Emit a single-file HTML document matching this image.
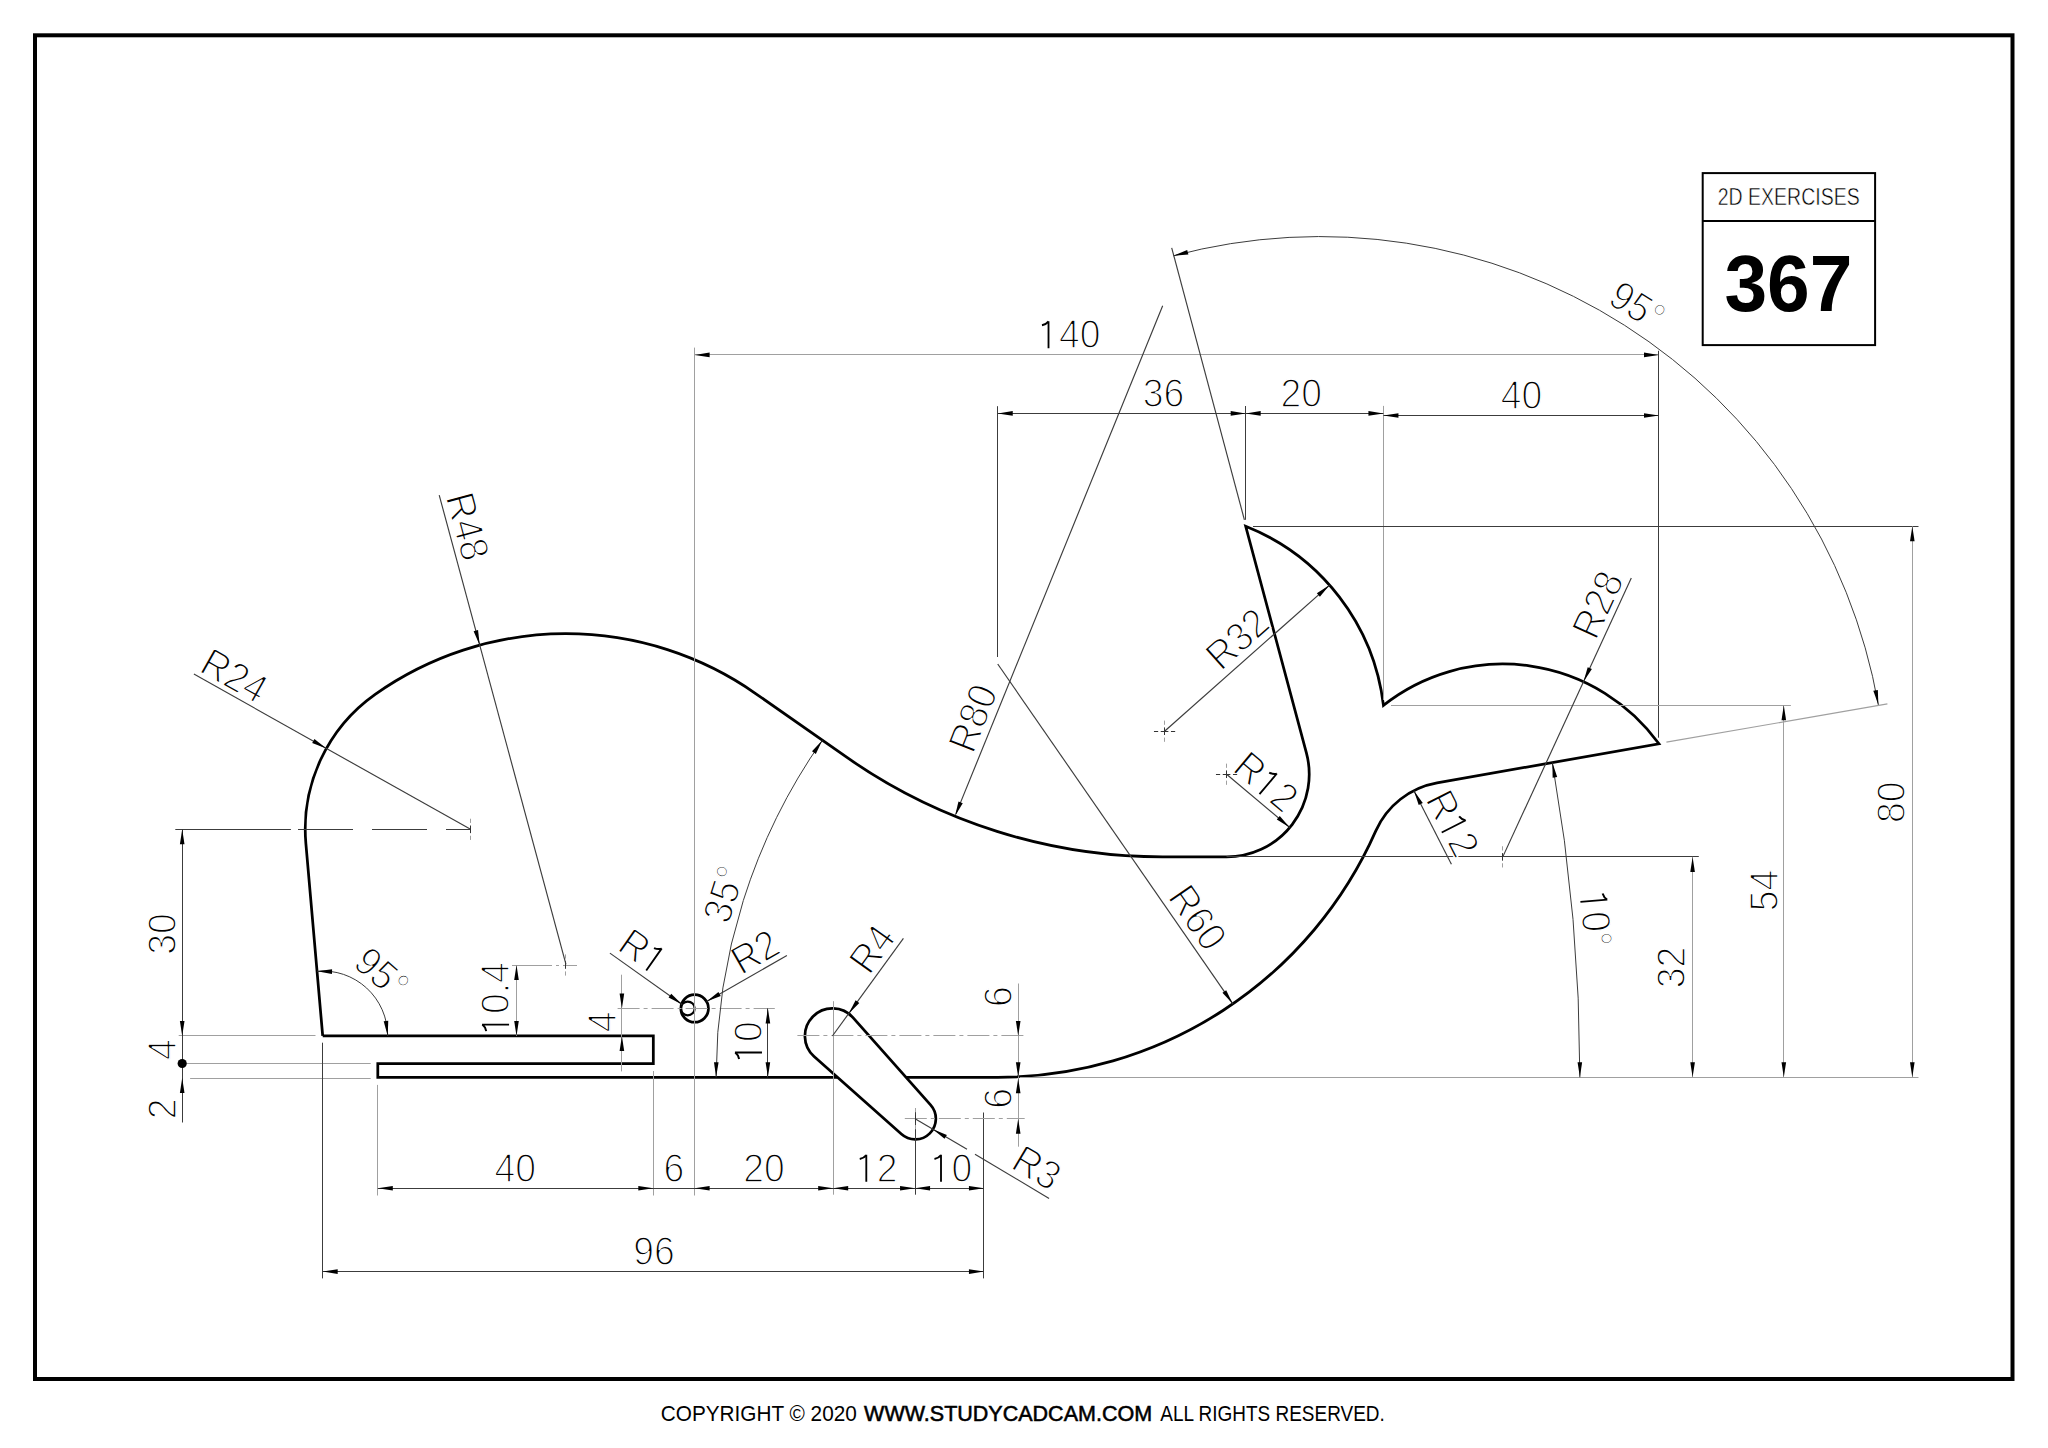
<!DOCTYPE html><html><head><meta charset="utf-8"><style>html,body{margin:0;padding:0;background:#fff;}svg{display:block}</style></head><body>
<svg width="2048" height="1448" viewBox="0 0 2048 1448">
<rect width="2048" height="1448" fill="#fff"/>
<rect x="35" y="35.3" width="1977.5" height="1343.7" fill="none" stroke="#000" stroke-width="4"/>
<rect x="1702.7" y="173.1" width="172.4" height="172" fill="none" stroke="#000" stroke-width="2"/>
<line x1="1702.7" y1="221" x2="1875.1" y2="221" stroke="#000" stroke-width="2"/>
<text x="1788.7" y="205.3" text-anchor="middle" font-family="Liberation Sans" font-size="23.8" textLength="142" lengthAdjust="spacingAndGlyphs" fill="#000" stroke="#fff" stroke-width="0.5">2D EXERCISES</text>
<text x="1788.4" y="311.3" text-anchor="middle" font-family="Liberation Sans" font-size="80.5" font-weight="bold" textLength="128" lengthAdjust="spacingAndGlyphs" fill="#000">367</text>
<g font-family="Liberation Sans" font-size="21.6" fill="#000">
<text x="660.8" y="1421.2" textLength="196" lengthAdjust="spacingAndGlyphs">COPYRIGHT © 2020</text>
<text x="864.1" y="1421.2" textLength="288" lengthAdjust="spacingAndGlyphs" stroke="#000" stroke-width="0.55">WWW.STUDYCADCAM.COM</text>
<text x="1160.3" y="1421.2" textLength="224.5" lengthAdjust="spacingAndGlyphs">ALL RIGHTS RESERVED.</text>
</g>
<path d="M322.7,1035.97 L305.88,843.74 A165.31,165.31 0 0 1 375.16,694.33 A330.62,330.62 0 0 1 755.61,693.51 L846.61,757.23 A551.04,551.04 0 0 0 1162.68,856.88 L1226.56,856.88 A82.66,82.66 0 0 0 1306.4,752.84 L1245.69,526.26 A220.42,220.42 0 0 1 1383.45,705.35 A192.86,192.86 0 0 1 1658.97,743.78 L1437.06,782.91 A82.66,82.66 0 0 0 1375.8,830.93 A413.28,413.28 0 0 1 997.72,1077.3 L905.99,1077.3" fill="none" stroke="#000" stroke-width="2.75" stroke-linejoin="miter"/>
<path d="M837.44,1077.3 L377.8,1077.3 L377.8,1063.52 L653.32,1063.52 L653.32,1035.97 L322.7,1035.97" fill="none" stroke="#000" stroke-width="2.75" stroke-linejoin="miter"/>
<path d="M853.01,1017.67 A27.55,27.55 0 1 0 814.11,1056.57 L901.34,1134.08 A20.66,20.66 0 0 0 930.52,1104.9 L853.01,1017.67Z" fill="none" stroke="#000" stroke-width="2.75"/>
<circle cx="694.65" cy="1008.42" r="13.78" fill="none" stroke="#000" stroke-width="2.75"/>
<circle cx="687.76" cy="1008.42" r="6.89" fill="none" stroke="#000" stroke-width="2.2"/>
<line x1="694.5" y1="347.6" x2="694.5" y2="1195.5" stroke="#a0a0a0" stroke-width="1.0"/>
<line x1="694.65" y1="354.5" x2="1658.97" y2="354.5" stroke="#a0a0a0" stroke-width="1.0"/>
<polygon points="694.65,354.9 709.65,352.6 709.65,357.2" fill="#000"/>
<polygon points="1658.97,354.9 1643.97,357.2 1643.97,352.6" fill="#000"/>
<line x1="1658.5" y1="350.8" x2="1658.5" y2="737.7" stroke="#3c3c3c" stroke-width="1.0"/>
<g transform="translate(1069.4,334.2) rotate(0) scale(0.92,1)"><text y="13.97" font-family="Liberation Sans" font-size="40.6" font-weight="normal" fill="#000" stroke="#fff" stroke-width="1.5"><tspan x="-11.29">4</tspan><tspan x="11.29">0</tspan></text><path d="M-22.7,13.97 L-22.7,-13.07 M-22.7,-12.77 Q-24.94,-9.91 -29.81,-8.89" fill="none" stroke="#000" stroke-width="2.0"/></g>
<line x1="997.5" y1="406.2" x2="997.5" y2="657" stroke="#3c3c3c" stroke-width="1.0"/>
<line x1="1245.5" y1="406" x2="1245.5" y2="519.8" stroke="#3c3c3c" stroke-width="1.0"/>
<line x1="1383.5" y1="405.9" x2="1383.5" y2="700" stroke="#a0a0a0" stroke-width="1.0"/>
<line x1="997.72" y1="413.5" x2="1245.69" y2="413.5" stroke="#3c3c3c" stroke-width="1.0"/>
<polygon points="997.72,413.4 1012.72,411.1 1012.72,415.7" fill="#000"/>
<polygon points="1245.69,413.4 1230.69,415.7 1230.69,411.1" fill="#000"/>
<line x1="1245.69" y1="413.5" x2="1383.45" y2="413.5" stroke="#3c3c3c" stroke-width="1.0"/>
<polygon points="1245.69,413.4 1260.69,411.1 1260.69,415.7" fill="#000"/>
<polygon points="1383.45,413.4 1368.45,415.7 1368.45,411.1" fill="#000"/>
<line x1="1383.45" y1="415.5" x2="1658.97" y2="415.5" stroke="#3c3c3c" stroke-width="1.0"/>
<polygon points="1383.45,415.5 1398.45,413.2 1398.45,417.8" fill="#000"/>
<polygon points="1658.97,415.5 1643.97,417.8 1643.97,413.2" fill="#000"/>
<g transform="translate(1163.4,393.3) rotate(0) scale(0.92,1)"><text y="13.97" font-family="Liberation Sans" font-size="40.6" font-weight="normal" fill="#000" stroke="#fff" stroke-width="1.5"><tspan x="-22.58">3</tspan><tspan x="0">6</tspan></text></g>
<g transform="translate(1301.2,393.3) rotate(0) scale(0.92,1)"><text y="13.97" font-family="Liberation Sans" font-size="40.6" font-weight="normal" fill="#000" stroke="#fff" stroke-width="1.5"><tspan x="-22.58">2</tspan><tspan x="0">0</tspan></text></g>
<g transform="translate(1521.5,394.7) rotate(0) scale(0.92,1)"><text y="13.97" font-family="Liberation Sans" font-size="40.6" font-weight="normal" fill="#000" stroke="#fff" stroke-width="1.5"><tspan x="-22.58">4</tspan><tspan x="0">0</tspan></text></g>
<line x1="1253" y1="526.5" x2="1918.5" y2="526.5" stroke="#3c3c3c" stroke-width="1.0"/>
<line x1="1391" y1="705.5" x2="1790.9" y2="705.5" stroke="#a0a0a0" stroke-width="1.0"/>
<line x1="1226.56" y1="856.5" x2="1698.8" y2="856.5" stroke="#3c3c3c" stroke-width="1.0"/>
<line x1="1019.8" y1="1077.5" x2="1918.5" y2="1077.5" stroke="#a0a0a0" stroke-width="1.0"/>
<line x1="1912.5" y1="526.26" x2="1912.5" y2="1077.3" stroke="#a0a0a0" stroke-width="1.0"/>
<polygon points="1912.3,526.26 1914.6,541.26 1910,541.26" fill="#000"/>
<polygon points="1912.3,1077.3 1910,1062.3 1914.6,1062.3" fill="#000"/>
<line x1="1783.5" y1="705.35" x2="1783.5" y2="1077.3" stroke="#a0a0a0" stroke-width="1.0"/>
<polygon points="1783.8,705.35 1786.1,720.35 1781.5,720.35" fill="#000"/>
<polygon points="1783.8,1077.3 1781.5,1062.3 1786.1,1062.3" fill="#000"/>
<line x1="1692.5" y1="856.88" x2="1692.5" y2="1077.3" stroke="#a0a0a0" stroke-width="1.0"/>
<polygon points="1692.6,856.88 1694.9,871.88 1690.3,871.88" fill="#000"/>
<polygon points="1692.6,1077.3 1690.3,1062.3 1694.9,1062.3" fill="#000"/>
<g transform="translate(1891.1,802.3) rotate(-90) scale(0.92,1)"><text y="13.97" font-family="Liberation Sans" font-size="40.6" font-weight="normal" fill="#000" stroke="#fff" stroke-width="1.5"><tspan x="-22.58">8</tspan><tspan x="0">0</tspan></text></g>
<g transform="translate(1764.1,890.6) rotate(-90) scale(0.92,1)"><text y="13.97" font-family="Liberation Sans" font-size="40.6" font-weight="normal" fill="#000" stroke="#fff" stroke-width="1.5"><tspan x="-22.58">5</tspan><tspan x="0">4</tspan></text></g>
<g transform="translate(1671.2,967.5) rotate(-90) scale(0.92,1)"><text y="13.97" font-family="Liberation Sans" font-size="40.6" font-weight="normal" fill="#000" stroke="#fff" stroke-width="1.5"><tspan x="-22.58">3</tspan><tspan x="0">2</tspan></text></g>
<line x1="175.3" y1="829.5" x2="290.9" y2="829.5" stroke="#3c3c3c" stroke-width="1.0"/>
<line x1="298" y1="829.5" x2="470.56" y2="829.5" stroke="#3c3c3c" stroke-width="1.0" stroke-dasharray="55,19"/>
<line x1="178.7" y1="1035.5" x2="315.5" y2="1035.5" stroke="#a0a0a0" stroke-width="1.0"/>
<line x1="186.7" y1="1063.5" x2="370.7" y2="1063.5" stroke="#a0a0a0" stroke-width="1.0"/>
<line x1="190.1" y1="1078.5" x2="370.7" y2="1078.5" stroke="#a0a0a0" stroke-width="1.0"/>
<line x1="182.5" y1="829.33" x2="182.5" y2="1122.5" stroke="#3c3c3c" stroke-width="1.0"/>
<polygon points="182.2,829.33 184.5,844.33 179.9,844.33" fill="#000"/>
<polygon points="182.2,1035.97 179.9,1020.97 184.5,1020.97" fill="#000"/>
<circle cx="182.2" cy="1063.52" r="4.6" fill="#000"/>
<polygon points="182.2,1078.1 184.5,1093.1 179.9,1093.1" fill="#000"/>
<g transform="translate(162.3,933.9) rotate(-90) scale(0.92,1)"><text y="13.97" font-family="Liberation Sans" font-size="40.6" font-weight="normal" fill="#000" stroke="#fff" stroke-width="1.5"><tspan x="-22.58">3</tspan><tspan x="0">0</tspan></text></g>
<g transform="translate(162,1049.6) rotate(-90) scale(0.92,1)"><text y="13.97" font-family="Liberation Sans" font-size="40.6" font-weight="normal" fill="#000" stroke="#fff" stroke-width="1.5"><tspan x="-11.29">4</tspan></text></g>
<g transform="translate(162.5,1108.9) rotate(-90) scale(0.92,1)"><text y="13.97" font-family="Liberation Sans" font-size="40.6" font-weight="normal" fill="#000" stroke="#fff" stroke-width="1.5"><tspan x="-11.29">2</tspan></text></g>
<line x1="322.5" y1="1042.7" x2="322.5" y2="1278.4" stroke="#3c3c3c" stroke-width="1.0"/>
<line x1="377.5" y1="1084.9" x2="377.5" y2="1195.5" stroke="#a0a0a0" stroke-width="1.0"/>
<line x1="653.5" y1="1071" x2="653.5" y2="1195.5" stroke="#a0a0a0" stroke-width="1.0"/>
<line x1="833.5" y1="1001.2" x2="833.5" y2="1194.7" stroke="#a0a0a0" stroke-width="1.0"/>
<line x1="915.5" y1="1108.6" x2="915.5" y2="1194.7" stroke="#3c3c3c" stroke-width="1.0"/>
<line x1="983.5" y1="1112.5" x2="983.5" y2="1278.4" stroke="#3c3c3c" stroke-width="1.0"/>
<line x1="377.8" y1="1188.5" x2="983.95" y2="1188.5" stroke="#3c3c3c" stroke-width="1.0"/>
<polygon points="377.8,1188.3 392.8,1186 392.8,1190.6" fill="#000"/>
<polygon points="653.32,1188.3 638.32,1190.6 638.32,1186" fill="#000"/>
<polygon points="694.65,1188.3 709.65,1186 709.65,1190.6" fill="#000"/>
<polygon points="833.2,1188.3 818.2,1190.6 818.2,1186" fill="#000"/>
<polygon points="833.2,1188.3 848.2,1186 848.2,1190.6" fill="#000"/>
<polygon points="915.07,1188.3 900.07,1190.6 900.07,1186" fill="#000"/>
<polygon points="915.07,1188.3 930.07,1186 930.07,1190.6" fill="#000"/>
<polygon points="983.95,1188.3 968.95,1190.6 968.95,1186" fill="#000"/>
<g transform="translate(515.2,1167.8) rotate(0) scale(0.92,1)"><text y="13.97" font-family="Liberation Sans" font-size="40.6" font-weight="normal" fill="#000" stroke="#fff" stroke-width="1.5"><tspan x="-22.58">4</tspan><tspan x="0">0</tspan></text></g>
<g transform="translate(674,1167.8) rotate(0) scale(0.92,1)"><text y="13.97" font-family="Liberation Sans" font-size="40.6" font-weight="normal" fill="#000" stroke="#fff" stroke-width="1.5"><tspan x="-11.29">6</tspan></text></g>
<g transform="translate(764,1167.8) rotate(0) scale(0.92,1)"><text y="13.97" font-family="Liberation Sans" font-size="40.6" font-weight="normal" fill="#000" stroke="#fff" stroke-width="1.5"><tspan x="-22.58">2</tspan><tspan x="0">0</tspan></text></g>
<g transform="translate(876.8,1167.8) rotate(0) scale(0.92,1)"><text y="13.97" font-family="Liberation Sans" font-size="40.6" font-weight="normal" fill="#000" stroke="#fff" stroke-width="1.5"><tspan x="0">2</tspan></text><path d="M-11.41,13.97 L-11.41,-13.07 M-11.41,-12.77 Q-13.65,-9.91 -18.52,-8.89" fill="none" stroke="#000" stroke-width="2.0"/></g>
<g transform="translate(951.5,1167.8) rotate(0) scale(0.92,1)"><text y="13.97" font-family="Liberation Sans" font-size="40.6" font-weight="normal" fill="#000" stroke="#fff" stroke-width="1.5"><tspan x="0">0</tspan></text><path d="M-11.41,13.97 L-11.41,-13.07 M-11.41,-12.77 Q-13.65,-9.91 -18.52,-8.89" fill="none" stroke="#000" stroke-width="2.0"/></g>
<line x1="322.7" y1="1271.5" x2="983.95" y2="1271.5" stroke="#3c3c3c" stroke-width="1.0"/>
<polygon points="322.7,1271.6 337.7,1269.3 337.7,1273.9" fill="#000"/>
<polygon points="983.95,1271.6 968.95,1273.9 968.95,1269.3" fill="#000"/>
<g transform="translate(653.9,1250.6) rotate(0) scale(0.92,1)"><text y="13.97" font-family="Liberation Sans" font-size="40.6" font-weight="normal" fill="#000" stroke="#fff" stroke-width="1.5"><tspan x="-22.58">9</tspan><tspan x="0">6</tspan></text></g>
<line x1="512" y1="965.5" x2="577" y2="965.5" stroke="#a0a0a0" stroke-width="1.0" stroke-dasharray="40,4,3,4"/>
<line x1="516.5" y1="965" x2="516.5" y2="1035.97" stroke="#a0a0a0" stroke-width="1.0"/>
<polygon points="516.5,965 518.8,980 514.2,980" fill="#000"/>
<polygon points="516.5,1035.97 514.2,1020.97 518.8,1020.97" fill="#000"/>
<g transform="translate(495.1,998.5) rotate(-90) scale(0.92,1)"><text y="13.97" font-family="Liberation Sans" font-size="40.6" font-weight="normal" fill="#000" stroke="#fff" stroke-width="1.5"><tspan x="-16.93">0</tspan><tspan x="5.65">.</tspan><tspan x="16.93">4</tspan></text><path d="M-28.34,13.97 L-28.34,-13.07 M-28.34,-12.77 Q-30.58,-9.91 -35.45,-8.89" fill="none" stroke="#000" stroke-width="2.0"/></g>
<line x1="565.5" y1="961.2" x2="565.5" y2="968.8" stroke="#333" stroke-width="1.0"/>
<line x1="565.5" y1="954.4" x2="565.5" y2="958.6" stroke="#a0a0a0" stroke-width="1.0"/>
<line x1="565.5" y1="971.4" x2="565.5" y2="975.6" stroke="#a0a0a0" stroke-width="1.0"/>
<line x1="617.6" y1="1008.5" x2="774.8" y2="1008.5" stroke="#a0a0a0" stroke-width="1.0" stroke-dasharray="22,4,4,4"/>
<line x1="621.5" y1="974.7" x2="621.5" y2="1071.4" stroke="#a0a0a0" stroke-width="1.0"/>
<polygon points="621.9,1008.42 619.6,993.42 624.2,993.42" fill="#000"/>
<polygon points="621.9,1035.97 624.2,1050.97 619.6,1050.97" fill="#000"/>
<g transform="translate(602.1,1021.8) rotate(-90) scale(0.92,1)"><text y="13.97" font-family="Liberation Sans" font-size="40.6" font-weight="normal" fill="#000" stroke="#fff" stroke-width="1.5"><tspan x="-11.29">4</tspan></text></g>
<line x1="767.5" y1="1008.42" x2="767.5" y2="1077.3" stroke="#3c3c3c" stroke-width="1.0"/>
<polygon points="767.9,1008.42 770.2,1023.42 765.6,1023.42" fill="#000"/>
<polygon points="767.9,1077.3 765.6,1062.3 770.2,1062.3" fill="#000"/>
<g transform="translate(748,1042) rotate(-90) scale(0.92,1)"><text y="13.97" font-family="Liberation Sans" font-size="40.6" font-weight="normal" fill="#000" stroke="#fff" stroke-width="1.5"><tspan x="0">0</tspan></text><path d="M-11.41,13.97 L-11.41,-13.07 M-11.41,-12.77 Q-13.65,-9.91 -18.52,-8.89" fill="none" stroke="#000" stroke-width="2.0"/></g>
<line x1="797.4" y1="1035.5" x2="1024.7" y2="1035.5" stroke="#a0a0a0" stroke-width="1.0" stroke-dasharray="22,4,4,4"/>
<line x1="904.8" y1="1118.5" x2="1024.7" y2="1118.5" stroke="#a0a0a0" stroke-width="1.0" stroke-dasharray="22,4,4,4"/>
<line x1="1018.5" y1="983.5" x2="1018.5" y2="1146.7" stroke="#a0a0a0" stroke-width="1.0"/>
<polygon points="1018.2,1035.97 1015.9,1020.97 1020.5,1020.97" fill="#000"/>
<polygon points="1018.2,1077.3 1015.9,1062.3 1020.5,1062.3" fill="#000"/>
<polygon points="1018.2,1078.3 1020.5,1093.3 1015.9,1093.3" fill="#000"/>
<polygon points="1018.2,1118.63 1020.5,1133.63 1015.9,1133.63" fill="#000"/>
<g transform="translate(998.5,996.7) rotate(-90) scale(0.92,1)"><text y="13.97" font-family="Liberation Sans" font-size="40.6" font-weight="normal" fill="#000" stroke="#fff" stroke-width="1.5"><tspan x="-11.29">6</tspan></text></g>
<g transform="translate(998.5,1098.3) rotate(-90) scale(0.92,1)"><text y="13.97" font-family="Liberation Sans" font-size="40.6" font-weight="normal" fill="#000" stroke="#fff" stroke-width="1.5"><tspan x="-11.29">6</tspan></text></g>
<line x1="193.9" y1="674.1" x2="470.56" y2="829.33" stroke="#3c3c3c" stroke-width="1.15"/>
<polygon points="326.4,748.44 312.19,743.11 314.44,739.1" fill="#000"/>
<g transform="translate(234.4,675.5) rotate(29.3) scale(0.92,1)"><text y="13.97" font-family="Liberation Sans" font-size="40.6" font-weight="normal" fill="#000" stroke="#fff" stroke-width="1.5"><tspan x="-37.24">R</tspan><tspan x="-7.92">2</tspan><tspan x="14.66">4</tspan></text></g>
<line x1="470.5" y1="825.53" x2="470.5" y2="833.13" stroke="#333" stroke-width="1.0"/>
<line x1="470.5" y1="818.73" x2="470.5" y2="822.93" stroke="#a0a0a0" stroke-width="1.0"/>
<line x1="470.5" y1="835.73" x2="470.5" y2="839.93" stroke="#a0a0a0" stroke-width="1.0"/>
<line x1="439.2" y1="495.1" x2="565.97" y2="964.34" stroke="#3c3c3c" stroke-width="1.15"/>
<polygon points="479.74,645.16 473.61,631.27 478.05,630.07" fill="#000"/>
<g transform="translate(467.7,526.4) rotate(74.9) scale(0.92,1)"><text y="13.97" font-family="Liberation Sans" font-size="40.6" font-weight="normal" fill="#000" stroke="#fff" stroke-width="1.5"><tspan x="-37.24">R</tspan><tspan x="-7.92">4</tspan><tspan x="14.66">8</tspan></text></g>
<line x1="1162.68" y1="305.84" x2="955.9" y2="813.9" stroke="#3c3c3c" stroke-width="1.15"/>
<polygon points="954.95,816.23 958.48,801.47 962.74,803.2" fill="#000"/>
<g transform="translate(972.7,718.1) rotate(-68.6) scale(0.92,1)"><text y="13.97" font-family="Liberation Sans" font-size="40.6" font-weight="normal" fill="#000" stroke="#fff" stroke-width="1.5"><tspan x="-37.24">R</tspan><tspan x="-7.92">8</tspan><tspan x="14.66">0</tspan></text></g>
<line x1="1164.56" y1="731.2" x2="1329.6" y2="585.1" stroke="#3c3c3c" stroke-width="1.15"/>
<polygon points="1329.6,585.1 1319.89,596.77 1316.84,593.32" fill="#000"/>
<g transform="translate(1237.2,638.8) rotate(-41.7) scale(0.92,1)"><text y="13.97" font-family="Liberation Sans" font-size="40.6" font-weight="normal" fill="#000" stroke="#fff" stroke-width="1.5"><tspan x="-37.24">R</tspan><tspan x="-7.92">3</tspan><tspan x="14.66">2</tspan></text></g>
<line x1="1160.76" y1="731.5" x2="1168.36" y2="731.5" stroke="#333" stroke-width="1.0"/>
<line x1="1153.96" y1="731.5" x2="1158.16" y2="731.5" stroke="#333" stroke-width="1.0"/>
<line x1="1170.96" y1="731.5" x2="1175.16" y2="731.5" stroke="#333" stroke-width="1.0"/>
<line x1="1164.5" y1="727.4" x2="1164.5" y2="735" stroke="#333" stroke-width="1.0"/>
<line x1="1164.5" y1="720.6" x2="1164.5" y2="724.8" stroke="#a0a0a0" stroke-width="1.0"/>
<line x1="1164.5" y1="737.6" x2="1164.5" y2="741.8" stroke="#a0a0a0" stroke-width="1.0"/>
<line x1="1226.56" y1="774.23" x2="1289.75" y2="827.52" stroke="#3c3c3c" stroke-width="1.15"/>
<polygon points="1289.75,827.52 1276.8,819.61 1279.76,816.09" fill="#000"/>
<g transform="translate(1266.2,781.6) rotate(40.1) scale(0.92,1)"><text y="13.97" font-family="Liberation Sans" font-size="40.6" font-weight="normal" fill="#000" stroke="#fff" stroke-width="1.5"><tspan x="-37.24">R</tspan><tspan x="14.66">2</tspan></text><path d="M3.25,13.97 L3.25,-13.07 M3.25,-12.77 Q1.01,-9.91 -3.86,-8.89" fill="none" stroke="#000" stroke-width="2.0"/></g>
<line x1="1222.76" y1="774.5" x2="1230.36" y2="774.5" stroke="#333" stroke-width="1.0"/>
<line x1="1215.96" y1="774.5" x2="1220.16" y2="774.5" stroke="#333" stroke-width="1.0"/>
<line x1="1232.96" y1="774.5" x2="1237.16" y2="774.5" stroke="#333" stroke-width="1.0"/>
<line x1="1226.5" y1="770.43" x2="1226.5" y2="778.03" stroke="#333" stroke-width="1.0"/>
<line x1="1226.5" y1="763.63" x2="1226.5" y2="767.83" stroke="#a0a0a0" stroke-width="1.0"/>
<line x1="1226.5" y1="780.63" x2="1226.5" y2="784.83" stroke="#a0a0a0" stroke-width="1.0"/>
<line x1="1451.42" y1="864.31" x2="1413.93" y2="790.64" stroke="#3c3c3c" stroke-width="1.15"/>
<polygon points="1413.93,790.64 1422.79,802.96 1418.69,805.05" fill="#000"/>
<g transform="translate(1452.8,823.5) rotate(63) scale(0.92,1)"><text y="13.97" font-family="Liberation Sans" font-size="40.6" font-weight="normal" fill="#000" stroke="#fff" stroke-width="1.5"><tspan x="-37.24">R</tspan><tspan x="14.66">2</tspan></text><path d="M3.25,13.97 L3.25,-13.07 M3.25,-12.77 Q1.01,-9.91 -3.86,-8.89" fill="none" stroke="#000" stroke-width="2.0"/></g>
<line x1="1502.76" y1="856.88" x2="1631.3" y2="578.1" stroke="#3c3c3c" stroke-width="1.15"/>
<polygon points="1583.51,681.74 1587.7,667.16 1591.88,669.08" fill="#000"/>
<g transform="translate(1597.6,604.5) rotate(-65.2) scale(0.92,1)"><text y="13.97" font-family="Liberation Sans" font-size="40.6" font-weight="normal" fill="#000" stroke="#fff" stroke-width="1.5"><tspan x="-37.24">R</tspan><tspan x="-7.92">2</tspan><tspan x="14.66">8</tspan></text></g>
<line x1="1502.5" y1="853.08" x2="1502.5" y2="860.68" stroke="#333" stroke-width="1.0"/>
<line x1="1502.5" y1="846.28" x2="1502.5" y2="850.48" stroke="#a0a0a0" stroke-width="1.0"/>
<line x1="1502.5" y1="863.28" x2="1502.5" y2="867.48" stroke="#a0a0a0" stroke-width="1.0"/>
<line x1="997.72" y1="664.02" x2="1232.86" y2="1003.89" stroke="#3c3c3c" stroke-width="1.15"/>
<polygon points="1232.86,1003.89 1222.43,992.87 1226.21,990.25" fill="#000"/>
<g transform="translate(1197.7,917.5) rotate(55.3) scale(0.92,1)"><text y="13.97" font-family="Liberation Sans" font-size="40.6" font-weight="normal" fill="#000" stroke="#fff" stroke-width="1.5"><tspan x="-37.24">R</tspan><tspan x="-7.92">6</tspan><tspan x="14.66">0</tspan></text></g>
<line x1="609.9" y1="953.1" x2="682.15" y2="1004.43" stroke="#3c3c3c" stroke-width="1.15"/>
<polygon points="682.15,1004.43 668.59,997.62 671.25,993.87" fill="#000"/>
<g transform="translate(643.3,951.4) rotate(35) scale(0.92,1)"><text y="13.97" font-family="Liberation Sans" font-size="40.6" font-weight="normal" fill="#000" stroke="#fff" stroke-width="1.5"><tspan x="-25.95">R</tspan></text><path d="M14.54,13.97 L14.54,-13.07 M14.54,-12.77 Q12.3,-9.91 7.43,-8.89" fill="none" stroke="#000" stroke-width="2.0"/></g>
<line x1="786.9" y1="955.4" x2="706.6" y2="1001.56" stroke="#3c3c3c" stroke-width="1.15"/>
<polygon points="706.6,1001.56 718.45,992.09 720.75,996.07" fill="#000"/>
<g transform="translate(755,951.8) rotate(-29.7) scale(0.92,1)"><text y="13.97" font-family="Liberation Sans" font-size="40.6" font-weight="normal" fill="#000" stroke="#fff" stroke-width="1.5"><tspan x="-25.95">R</tspan><tspan x="3.37">2</tspan></text></g>
<line x1="903.4" y1="938.4" x2="832.41" y2="1035.97" stroke="#3c3c3c" stroke-width="1.15"/>
<polygon points="848.62,1013.69 855.59,1000.21 859.31,1002.92" fill="#000"/>
<g transform="translate(871.9,948.8) rotate(-54.4) scale(0.92,1)"><text y="13.97" font-family="Liberation Sans" font-size="40.6" font-weight="normal" fill="#000" stroke="#fff" stroke-width="1.5"><tspan x="-25.95">R</tspan><tspan x="3.37">4</tspan></text></g>
<line x1="915.07" y1="1118.63" x2="967" y2="1149.3" stroke="#3c3c3c" stroke-width="1.15"/>
<line x1="975" y1="1154.3" x2="1049.1" y2="1198.4" stroke="#3c3c3c" stroke-width="1.15"/>
<polygon points="932.82,1129.2 946.89,1134.89 944.54,1138.84" fill="#000"/>
<g transform="translate(1037,1167.6) rotate(30.6) scale(0.92,1)"><text y="13.97" font-family="Liberation Sans" font-size="40.6" font-weight="normal" fill="#000" stroke="#fff" stroke-width="1.5"><tspan x="-25.95">R</tspan><tspan x="3.37">3</tspan></text></g>
<line x1="915.5" y1="1114.83" x2="915.5" y2="1122.43" stroke="#333" stroke-width="1.0"/>
<line x1="915.5" y1="1108.03" x2="915.5" y2="1112.23" stroke="#a0a0a0" stroke-width="1.0"/>
<line x1="915.5" y1="1125.03" x2="915.5" y2="1129.23" stroke="#a0a0a0" stroke-width="1.0"/>
<path d="M1173.24,255.87 A567,567 0 0 1 1878.38,705.09" fill="none" stroke="#3c3c3c" stroke-width="1"/>
<polygon points="1173.24,255.87 1187.21,249.95 1188.35,254.41" fill="#000"/>
<polygon points="1878.38,705.09 1873.32,690.78 1877.84,689.93" fill="#000"/>
<line x1="1171.7" y1="247.8" x2="1244.4" y2="519.8" stroke="#3c3c3c" stroke-width="1.15"/>
<line x1="1666.4" y1="742.1" x2="1887.4" y2="703.9" stroke="#a0a0a0" stroke-width="1.15"/>
<g transform="translate(1637.5,306) rotate(32.3) scale(0.92,1)"><text y="13.97" font-family="Liberation Sans" font-size="40.6" font-weight="normal" fill="#000" stroke="#fff" stroke-width="1.5"><tspan x="-30.7">9</tspan><tspan x="-8.12">5</tspan><tspan x="14.46">°</tspan></text></g>
<path d="M317.03,971.22 A65,65 0 0 1 387.7,1035.97" fill="none" stroke="#3c3c3c" stroke-width="1"/>
<polygon points="317.03,971.22 332.09,969.34 331.96,973.94" fill="#000"/>
<polygon points="387.7,1035.97 383.69,1021.34 388.26,1020.81" fill="#000"/>
<g transform="translate(382,973.4) rotate(41.1) scale(0.92,1)"><text y="13.97" font-family="Liberation Sans" font-size="40.6" font-weight="normal" fill="#000" stroke="#fff" stroke-width="1.5"><tspan x="-30.7">9</tspan><tspan x="-8.12">5</tspan><tspan x="14.46">°</tspan></text></g>
<path d="M822.37,740.25 A587.62,587.62 0 0 0 716.1,1077.3" fill="none" stroke="#3c3c3c" stroke-width="1"/>
<polygon points="822.37,740.25 815.82,753.95 812.02,751.36" fill="#000"/>
<polygon points="716.1,1077.3 713.99,1062.27 718.59,1062.33" fill="#000"/>
<g transform="translate(723.9,894) rotate(-72.5) scale(0.92,1)"><text y="13.97" font-family="Liberation Sans" font-size="40.6" font-weight="normal" fill="#000" stroke="#fff" stroke-width="1.5"><tspan x="-30.7">3</tspan><tspan x="-8.12">5</tspan><tspan x="14.46">°</tspan></text></g>
<path d="M1552.37,762.58 A1812.43,1812.43 0 0 1 1579.9,1077.3" fill="none" stroke="#3c3c3c" stroke-width="1"/>
<polygon points="1552.37,762.58 1557.18,776.97 1552.64,777.75" fill="#000"/>
<polygon points="1579.9,1077.3 1577.54,1062.31 1582.14,1062.29" fill="#000"/>
<g transform="translate(1595.9,918.6) rotate(85) scale(0.92,1)"><text y="13.97" font-family="Liberation Sans" font-size="40.6" font-weight="normal" fill="#000" stroke="#fff" stroke-width="1.5"><tspan x="-8.12">0</tspan><tspan x="14.46">°</tspan></text><path d="M-19.53,13.97 L-19.53,-13.07 M-19.53,-12.77 Q-21.77,-9.91 -26.64,-8.89" fill="none" stroke="#000" stroke-width="2.0"/></g>
</svg></body></html>
